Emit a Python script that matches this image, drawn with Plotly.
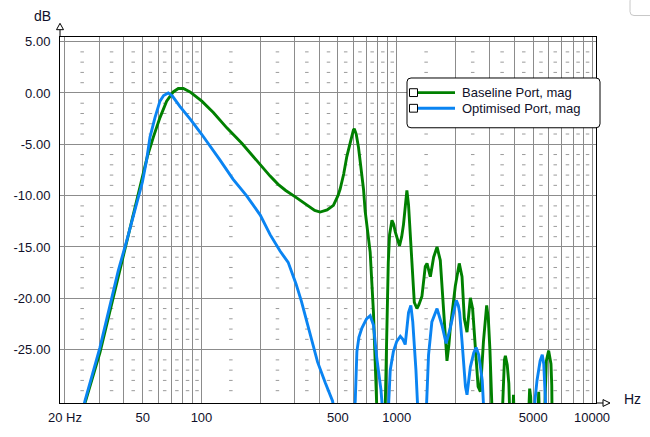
import math
import plotly.graph_objects as go

# canvas and plot-area margins (px)
W, H = 650, 437
ML, MR, MT, MB = 60, 54, 37, 25

# Baseline port response (Hz, dB); -32 means below the visible floor
base_freq = [24.5, 25.5, 30.2, 34, 37.5, 40, 43, 46.5, 49.8, 52.8, 56.7, 61.3, 66.3, 71.7,
             76.1, 80.8, 87.4, 93, 100.4, 115, 134.8, 160.9, 180, 199.6, 224.7, 247, 270,
             301, 346.6, 380, 405, 440, 474, 500, 513, 535, 555, 580, 600, 606, 620, 637,
             655, 676, 689, 731, 760, 775, 785, 795, 870, 880, 891, 905, 919, 945, 965,
             982, 1033, 1060, 1083, 1105, 1127, 1149, 1170, 1186, 1210, 1230, 1269, 1300,
             1346, 1400, 1429, 1455, 1486, 1545, 1608, 1671, 1738, 1780, 1808, 1850, 1880,
             1995, 2090, 2159, 2219, 2290, 2340, 2382, 2446, 2530, 2610, 2680, 2730, 2780,
             2887, 2945, 3000, 3040, 3090, 3460, 3500, 3560, 3600, 3680, 3750, 3800, 3930,
             3960, 4000, 4720, 4793, 4850, 4900, 5270, 5333, 5390, 5700, 5780, 5836, 5996,
             6080, 6163, 6220, 6250]
base_db = [-31, -30.0, -25.3, -21.2, -17.8, -15.8, -13.2, -10.6, -8.1, -6.2, -4.3, -2.4, -0.8, 0.1,
           0.43, 0.43, 0.1, -0.3, -0.8, -1.9, -3.4, -4.9, -6.0, -7.0, -8.1, -8.9, -9.5,
           -10.1, -10.95, -11.45, -11.6, -11.4, -10.95, -10.0, -9.36, -7.9, -6.2, -4.6, -3.6, -3.5, -4.0, -5.3,
           -7.0, -9.4, -11.5, -15.5, -21.4, -26.0, -30.0, -32, -32, -28.0, -20.7, -16.5, -13.8, -12.4, -12.8,
           -13.5, -14.9, -14.0, -12.8, -10.8, -9.5, -10.9, -13.5, -16.0, -18.8, -20.4, -21.0, -20.6,
           -19.8, -16.9, -16.6, -17.2, -17.9, -16.0, -15.0, -16.3, -20.7, -24.0, -26.1, -24.5, -22.9,
           -18.8, -16.6, -17.9, -22.0, -23.3, -21.5, -19.95, -21.0, -24.5, -28.6, -29.1, -26.5, -24.2,
           -20.7, -22.0, -25.0, -27.4, -32, -32, -28.5, -26.0, -25.6, -26.5, -28.3, -32, -32,
           -29.4, -32, -32, -28.8, -29.6, -32, -32, -29.1, -32, -32, -27.5, -26.1, -25.1,
           -25.6, -26.4, -28.5, -32]

# Optimised port response
opt_freq = [24.8, 25.3, 30.2, 34, 37.5, 41.4, 45.7, 49.8, 52.4, 54.5, 57.8, 61.3, 64, 67.6,
            71, 77.5, 88, 100, 124, 145, 170, 200, 224.7, 252.6, 278, 305, 325, 343, 365,
            393, 430, 469, 480, 600, 613, 625, 640, 663, 700, 731, 760, 790, 830, 855, 900,
            926, 961, 1000, 1043, 1075, 1105, 1130, 1149, 1181, 1208, 1254, 1290, 1410,
            1455, 1513, 1608, 1703, 1790, 1880, 2018, 2067, 2099, 2159, 2190, 2248, 2290,
            2382, 2480, 2550, 2630, 2740, 2810, 5040, 5100, 5227, 5423, 5560, 5660, 5760, 5840]
opt_db = [-31, -30.0, -24.8, -20.7, -17.3, -14.4, -11.3, -8.7, -6.5, -4.3, -2.4, -0.8, -0.25, 0.0,
          -0.3, -1.3, -2.6, -4.0, -6.5, -8.4, -10.0, -11.9, -13.8, -15.4, -16.5, -18.6, -20.3, -22.05, -24.0,
          -26.2, -28.2, -30.0, -31, -32, -30.0, -25.2, -23.8, -22.9, -22.0, -21.7, -22.6, -25.8, -28.9, -32, -32,
          -27.0, -25.2, -24.2, -23.7, -24.0, -24.5, -22.5, -21.4, -20.7, -22.3, -27.0, -32, -32,
          -25.5, -22.3, -21.0, -22.6, -24.4, -22.9, -20.2, -20.7, -21.4, -24.2, -26.0, -28.6, -29.4,
          -26.7, -25.3, -24.8, -25.5, -28.0, -32, -32, -30.0, -28.0, -26.1, -25.5, -26.4, -29.0, -32]

series_names = ["Baseline Port, mag", "Optimised Port, mag"]
series_colors = ["#008000", "#0a84f2"]

grid_freqs = [20, 30, 40, 50, 60, 70, 80, 90, 100, 200, 300, 400, 500, 600, 700, 800, 900,
              1000, 2000, 3000, 4000, 5000, 6000, 7000, 8000, 9000, 10000]
freq_labels = {20: "20 Hz", 50: "50", 100: "100", 500: "500", 1000: "1000", 5000: "5000", 10000: "10000"}
db_ticks = [5, 0, -5, -10, -15, -20, -25]
db_labels = ["5.00", "0.00", "-5.00", "-10.00", "-15.00", "-20.00", "-25.00"]

FONT = "Liberation Sans, Arial, sans-serif"
TXT = "#10102a"
GRID = "#8c8c8c"

PW = W - ML - MR
PH = H - MT - MB


def px(x):
    return (x - ML) / PW


def py(y):
    return (H - MB - y) / PH


fig = go.Figure()

# dotted minor grid: short dashes between the vertical grid lines at every dB
dot_x, dot_y = [], []
for a, b in zip(grid_freqs[:-1], grid_freqs[1:]):
    for d in range(-29, 5):
        if d % 5:
            dot_x.append(math.sqrt(a * b))
            dot_y.append(d)
fig.add_trace(go.Scatter(x=dot_x, y=dot_y, mode="markers", hoverinfo="skip", showlegend=False,
                         marker=dict(symbol="line-ew", size=2.5, line=dict(color="#9a9a9a", width=1))))

for f, d, name, col in zip([base_freq, opt_freq], [base_db, opt_db], series_names, series_colors):
    fig.add_trace(go.Scatter(x=f, y=d, mode="lines", name=name,
                             line=dict(color=col, width=2.9)))

shapes = []
# axis arrows
shapes.append(dict(type="line", xref="paper", yref="paper", x0=px(60), x1=px(60), y0=py(29.5), y1=py(37),
                   line=dict(color="black", width=1)))
shapes.append(dict(type="path", xref="paper", yref="paper",
                   path=f"M {px(60)},{py(23)} L {px(56.5)},{py(29.5)} L {px(63.5)},{py(29.5)} Z",
                   fillcolor="white", line=dict(color="black", width=1)))
shapes.append(dict(type="line", xref="paper", yref="paper", x0=px(596), x1=px(603), y0=py(412), y1=py(412),
                   line=dict(color="black", width=1)))
shapes.append(dict(type="path", xref="paper", yref="paper",
                   path=f"M {px(610)},{py(412)} L {px(603)},{py(408.5)} L {px(603)},{py(415.5)} Z",
                   fillcolor="white", line=dict(color="black", width=1)))


def rounded(x0, y0, x1, y1, r):
    return (f"M {px(x0 + r)},{py(y0)} L {px(x1 - r)},{py(y0)} Q {px(x1)},{py(y0)} {px(x1)},{py(y0 + r)} "
            f"L {px(x1)},{py(y1 - r)} Q {px(x1)},{py(y1)} {px(x1 - r)},{py(y1)} "
            f"L {px(x0 + r)},{py(y1)} Q {px(x0)},{py(y1)} {px(x0)},{py(y1 - r)} "
            f"L {px(x0)},{py(y0 + r)} Q {px(x0)},{py(y0)} {px(x0 + r)},{py(y0)} Z")


# legend box
shapes.append(dict(type="path", xref="paper", yref="paper", path=rounded(407, 79, 600, 130, 4),
                   fillcolor="white", line=dict(color="black", width=1)))
# small widget in the corner
shapes.append(dict(type="path", xref="paper", yref="paper", path=rounded(630, -4, 660, 15, 4),
                   fillcolor="white", line=dict(color="#c8c8c8", width=1)))

annotations = []
for i, (name, col) in enumerate(zip(series_names, series_colors)):
    yc = 94 + 16 * i
    shapes.append(dict(type="rect", xref="paper", yref="paper", x0=px(409.5), x1=px(417.5),
                       y0=py(yc - 4), y1=py(yc + 4), fillcolor="white", line=dict(color="black", width=1)))
    shapes.append(dict(type="line", xref="paper", yref="paper", x0=px(418), x1=px(455), y0=py(yc), y1=py(yc),
                       line=dict(color=col, width=2.9)))
    annotations.append(dict(xref="paper", yref="paper", x=px(460), y=py(yc), text=name, showarrow=False,
                            xanchor="left", yanchor="middle", font=dict(family=FONT, size=13, color=TXT)))

annotations.append(dict(xref="paper", yref="paper", x=px(42), y=py(15), text="dB", showarrow=False,
                        xanchor="center", yanchor="middle", font=dict(family=FONT, size=14, color=TXT)))
annotations.append(dict(xref="paper", yref="paper", x=px(632), y=py(408), text="Hz", showarrow=False,
                        xanchor="center", yanchor="middle", font=dict(family=FONT, size=14, color=TXT)))

fig.update_layout(
    width=W, height=H,
    margin=dict(l=ML, r=MR, t=MT, b=MB),
    paper_bgcolor="white", plot_bgcolor="white",
    showlegend=False, hovermode=False,
    shapes=shapes, annotations=annotations,
    xaxis=dict(type="log", range=[math.log10(18.86), math.log10(10480)],
               tickvals=grid_freqs, ticktext=[freq_labels.get(f, "") for f in grid_freqs],
               showgrid=True, gridcolor=GRID, gridwidth=1, zeroline=False,
               showline=True, linecolor="black", linewidth=1, mirror=True, ticks="",
               ticklabelstandoff=2, tickfont=dict(family=FONT, size=13, color=TXT)),
    yaxis=dict(range=[-30.2, 5.45], tickvals=db_ticks, ticktext=db_labels,
               showgrid=True, gridcolor=GRID, gridwidth=1, zeroline=False,
               showline=True, linecolor="black", linewidth=1, mirror=True, ticks="",
               ticklabelstandoff=6, tickfont=dict(family=FONT, size=13, color=TXT)),
)

# the page's default body margin would push the figure 8px down and right
fig.write_html("out.html", config={"displayModeBar": False},
               post_script="document.body.style.margin='0';")
